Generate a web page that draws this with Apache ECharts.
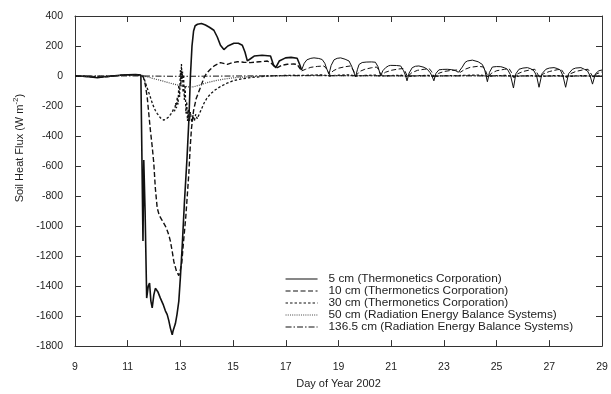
<!DOCTYPE html>
<html>
<head>
<meta charset="utf-8">
<script src="https://cdn.jsdelivr.net/npm/echarts@6/dist/echarts.min.js"></script>
<style>
  html, body { margin: 0; padding: 0; background: #fff; }
  #chart { width: 611px; height: 394px; }
</style>
</head>
<body>
<div id="chart"></div>
<script>
const seriesNames = [
  "5 cm (Thermonetics Corporation)",
  "10 cm (Thermonetics Corporation)",
  "30 cm (Thermonetics Corporation)",
  "50 cm (Radiation Energy Balance Systems)",
  "136.5 cm (Radiation Energy Balance Systems)",
];

// day of year, W m-2
const flux5Early = [
  [9.0, 0], [9.3, -2], [9.6, -6], [9.85, -12], [10.1, -5], [10.4, 0], [10.7, 5], [11.0, 8],
  [11.3, 9], [11.5, 6], [11.55, 0], [11.58, -1100], [11.61, -560], [11.66, -900], [11.72, -1480],
  [11.78, -1400], [11.83, -1380], [11.88, -1500], [11.93, -1545], [11.99, -1460], [12.05, -1415],
  [12.15, -1440], [12.24, -1480], [12.34, -1520], [12.43, -1565], [12.5, -1590], [12.56, -1630],
  [12.62, -1680], [12.69, -1725], [12.72, -1700], [12.75, -1690], [12.81, -1650], [12.87, -1590],
  [12.94, -1500], [13.0, -1340], [13.07, -1130], [13.15, -850], [13.25, -550], [13.32, -300],
  [13.38, 0], [13.44, 200], [13.5, 300], [13.56, 335], [13.65, 345], [13.8, 350], [13.95, 340],
  [14.1, 325], [14.27, 305], [14.4, 260], [14.52, 205], [14.65, 176], [14.8, 200], [15.03, 218],
  [15.2, 218], [15.35, 205], [15.45, 160], [15.54, 101], [15.66, 115], [15.8, 133], [16.1, 138],
  [16.42, 133], [16.53, 75], [16.62, 56], [16.75, 100], [16.99, 121], [17.2, 124], [17.43, 118],
  [17.52, 80], [17.6, 40],
];
const flux5Late = [
  [17.6, 40], [17.7, 85], [17.8, 108], [17.95, 118], [18.07, 121], [18.25, 117], [18.38, 110],
  [18.48, 85], [18.56, 45], [18.64, 12], [18.72, 70], [18.83, 108], [18.95, 118], [19.08, 121],
  [19.25, 112], [19.4, 100], [19.5, 65], [19.58, 25], [19.65, -5], [19.72, 45], [19.78, 77],
  [19.9, 90], [20.05, 93], [20.25, 94], [20.4, 92], [20.5, 62], [20.6, 0], [20.68, 35],
  [20.79, 56], [20.9, 68], [20.98, 71], [21.2, 70], [21.36, 67], [21.47, 35], [21.55, 0],
  [21.6, -32], [21.68, 20], [21.8, 56], [21.92, 65], [22.05, 67], [22.25, 58], [22.37, 45],
  [22.48, 22], [22.56, -5], [22.62, -32], [22.7, 18], [22.81, 41], [22.95, 44], [23.13, 45],
  [23.3, 42], [23.45, 35], [23.55, 25], [23.6, 22], [23.7, 60], [23.8, 90], [23.89, 100],
  [24.08, 106], [24.3, 95], [24.46, 77], [24.55, 40], [24.65, -38], [24.73, 25], [24.84, 60],
  [25.0, 63], [25.16, 62], [25.3, 55], [25.41, 45], [25.52, 10], [25.64, -80], [25.73, 15],
  [25.85, 45], [26.0, 53], [26.17, 56], [26.3, 48], [26.42, 34], [26.52, 0], [26.61, -75],
  [26.72, 15], [26.87, 45], [27.0, 53], [27.18, 56], [27.3, 50], [27.42, 40], [27.52, 0],
  [27.62, -75], [27.73, 15], [27.88, 45], [28.0, 53], [28.2, 56], [28.33, 45], [28.45, 34],
  [28.55, 0], [28.64, -54], [28.75, 15], [28.88, 35], [29.0, 40],
];

const flux10Early = [
  [9.0, 0], [9.5, -3], [9.9, -8], [10.3, -3], [10.8, 6], [11.3, 8], [11.55, 4], [11.6, -10],
  [11.67, -60], [11.74, -140], [11.8, -250], [11.86, -360], [11.93, -470], [11.99, -580],
  [12.05, -750], [12.12, -880], [12.2, -930], [12.3, -960], [12.43, -1000], [12.5, -1030],
  [12.56, -1060], [12.62, -1100], [12.7, -1180], [12.75, -1236], [12.85, -1300], [12.94, -1330],
  [13.0, -1290], [13.05, -1250], [13.12, -1100], [13.2, -950], [13.26, -800], [13.32, -650],
  [13.37, -480], [13.42, -350], [13.5, -230], [13.6, -150], [13.76, -76], [13.9, -10], [14.0, 20],
  [14.14, 45], [14.3, 70], [14.52, 89], [14.78, 78], [14.95, 88], [15.16, 95], [15.4, 92],
  [15.66, 89], [16.0, 95], [16.3, 100], [16.45, 85], [16.6, 58], [16.68, 56], [16.85, 72],
  [17.06, 78], [17.3, 80], [17.43, 78], [17.52, 55], [17.6, 34],
];
const flux10Late = [
  [17.6, 34], [17.75, 45], [17.95, 58], [18.2, 64], [18.45, 67], [18.56, 45], [18.66, 8],
  [18.8, 35], [19.0, 52], [19.25, 62], [19.45, 67], [19.56, 40], [19.66, 2], [19.8, 30],
  [20.0, 45], [20.25, 55], [20.45, 60], [20.53, 40], [20.62, 5], [20.78, 25], [21.0, 38],
  [21.25, 46], [21.45, 50], [21.53, 30], [21.62, -5], [21.78, 22], [22.0, 38], [22.25, 45],
  [22.45, 48], [22.54, 28], [22.64, -8], [22.8, 18], [23.0, 30], [23.3, 38], [23.5, 40],
  [23.62, 25], [23.8, 45], [24.0, 58], [24.3, 65], [24.5, 60], [24.58, 35], [24.67, -5],
  [24.82, 20], [25.0, 35], [25.3, 45], [25.48, 48], [25.56, 25], [25.66, -12], [25.8, 15],
  [26.0, 30], [26.3, 42], [26.45, 45], [26.53, 22], [26.63, -10], [26.78, 15], [27.0, 30],
  [27.3, 42], [27.45, 45], [27.54, 22], [27.64, -10], [27.8, 15], [28.0, 30], [28.3, 42],
  [28.47, 45], [28.56, 22], [28.66, -8], [28.8, 15], [29.0, 28],
];

const flux30 = [
  [9.0, 0], [9.5, -2], [9.9, -6], [10.3, -2], [10.8, 5], [11.3, 7], [11.58, 3], [11.63, -20],
  [11.72, -70], [11.8, -110], [11.86, -141], [11.95, -190], [12.05, -230], [12.12, -250],
  [12.25, -280], [12.37, -294], [12.47, -285], [12.56, -272], [12.63, -255], [12.69, -240],
  [12.74, -220], [12.78, -235], [12.82, -180], [12.85, -215], [12.88, -140], [12.91, -190],
  [12.94, -60], [12.97, -140], [13.0, 40], [13.02, -70], [13.04, 80], [13.06, -20], [13.08, 30],
  [13.1, -110], [13.12, 10], [13.15, -160], [13.18, -60], [13.21, -250], [13.24, -170],
  [13.27, -300], [13.3, -220], [13.34, -300], [13.38, -240], [13.43, -310], [13.48, -260],
  [13.53, -300], [13.58, -255], [13.64, -285], [13.7, -260], [13.76, -250], [13.9, -180],
  [14.0, -150], [14.14, -120], [14.3, -95], [14.52, -70], [14.8, -45], [15.0, -32], [15.28, -20],
  [15.6, -12], [16.0, -5], [16.3, 0], [16.8, 3], [17.3, 5], [17.6, 4], [18.0, 6], [18.4, 8],
  [18.65, 0], [19.0, 5], [19.4, 8], [19.65, 0], [20.0, 4], [20.4, 6], [20.6, 0], [21.0, 3],
  [21.4, 5], [21.6, -3], [22.0, 2], [22.4, 4], [22.6, -3], [23.0, 2], [23.5, 3], [24.0, 5],
  [24.4, 6], [24.65, -2], [25.0, 2], [25.4, 4], [25.65, -4], [26.0, 1], [26.4, 3], [26.6, -4],
  [27.0, 1], [27.4, 3], [27.6, -4], [28.0, 1], [28.4, 3], [28.65, -3], [29.0, 2],
];

const flux50 = [
  [9.0, 0], [9.6, -2], [10.2, 0], [10.8, 3], [11.4, 4], [11.6, 0], [11.8, -8], [12.0, -18],
  [12.3, -32], [12.6, -47], [12.9, -60], [13.1, -66], [13.3, -72], [13.5, -72], [13.7, -62],
  [14.0, -45], [14.3, -32], [14.6, -22], [15.0, -12], [15.5, -6], [16.0, -2], [16.5, 0],
  [17.0, 2], [17.5, 3], [18.0, 4], [19.0, 3], [20.0, 3], [21.0, 1], [22.0, 1], [23.0, 1],
  [24.0, 2], [25.0, 0], [26.0, 0], [27.0, 0], [28.0, 0], [29.0, 0],
];

const flux136 = [
  [9.0, 0], [11.0, 1], [13.0, -2], [15.0, 0], [17.0, 2], [19.0, 2], [21.0, 1], [23.0, 1],
  [25.0, 1], [27.0, 0], [29.0, 0],
];

const xRange = [9, 29, 2];
const yRange = [-1800, 400, 200];

const font = "Liberation Sans";
const ink = "#222";

const chart = echarts.init(document.getElementById("chart"), null, { renderer: "canvas" });

const lineSeries = (name, data, width, type, color) => ({
  name,
  type: "line",
  data,
  symbol: "none",
  showSymbol: false,
  silent: true,
  itemStyle: { color: color || "#111" },
  lineStyle: { color: color || "#111", width, type },
});

const tickAxisX = (position, showLabel) => ({
  type: "value",
  position,
  min: xRange[0],
  max: xRange[1],
  interval: xRange[2],
  axisLine: { show: true, onZero: false, lineStyle: { color: "#333", width: 1 } },
  axisTick: { show: true, inside: true, length: 6, lineStyle: { color: "#333" } },
  axisLabel: { show: showLabel, color: ink, fontSize: 11, fontFamily: font, margin: 16 },
  splitLine: { show: false },
});

const tickAxisY = (position, showLabel) => ({
  type: "value",
  position,
  min: yRange[0],
  max: yRange[1],
  interval: yRange[2],
  axisLine: { show: true, onZero: false, lineStyle: { color: "#333", width: 1 } },
  axisTick: { show: true, inside: true, length: 6, lineStyle: { color: "#333" } },
  axisLabel: {
    show: showLabel, color: ink, fontSize: 10.5, fontFamily: font, margin: 12,
    formatter: (v) => String(v),
  },
  splitLine: { show: false },
});

const xBottom = tickAxisX("bottom", true);
xBottom.axisLabel.fontSize = 10.5;
xBottom.name = "Day of Year 2002";
xBottom.nameLocation = "middle";
xBottom.nameGap = 29;
xBottom.nameTextStyle = { color: ink, fontSize: 11, fontFamily: font };

const yLeft = tickAxisY("left", true);
yLeft.name = "{t|Soil Heat Flux (W m}{s|-2}{t|)}";
yLeft.nameLocation = "middle";
yLeft.nameGap = 46;
yLeft.nameTextStyle = {
  padding: [0, 0, 0, 66],
  rich: {
    t: { color: ink, fontSize: 11, fontFamily: font },
    s: { color: ink, fontSize: 8, fontFamily: font, padding: [0, 0, 8, 0] },
  },
};

const option = {
  animation: false,
  backgroundColor: "#fff",
  grid: { left: 75, right: 9, top: 16, bottom: 43 },
  xAxis: [xBottom, tickAxisX("top", false)],
  yAxis: [yLeft, tickAxisY("right", false)],
  legend: {
    data: seriesNames,
    orient: "vertical",
    left: 285,
    top: 273,
    padding: 0,
    itemWidth: 32,
    itemHeight: 9,
    itemGap: 0,
    selectedMode: false,
    itemStyle: { opacity: 0 },
    lineStyle: { width: 1.1 },
    textStyle: { color: ink, fontSize: 11.8, fontFamily: font, lineHeight: 11, padding: [0, 0, 0, 6] },
  },
  series: [
    lineSeries(seriesNames[0], flux5Early, 1.6, "solid"),
    lineSeries(seriesNames[1], flux10Early, 1.4, [5, 2.5]),
    lineSeries(seriesNames[2], flux30, 1.3, [2.5, 2]),
    lineSeries(seriesNames[3], flux50, 1.2, [1, 1.2], "#444"),
    lineSeries(seriesNames[4], flux136, 1, [6, 2, 1.5, 2]),
    lineSeries(seriesNames[0], flux5Late, 1, "solid"),
    lineSeries(seriesNames[1], flux10Late, 1, [5, 2.5]),
  ],
};

chart.setOption(option);
</script>
</body>
</html>
